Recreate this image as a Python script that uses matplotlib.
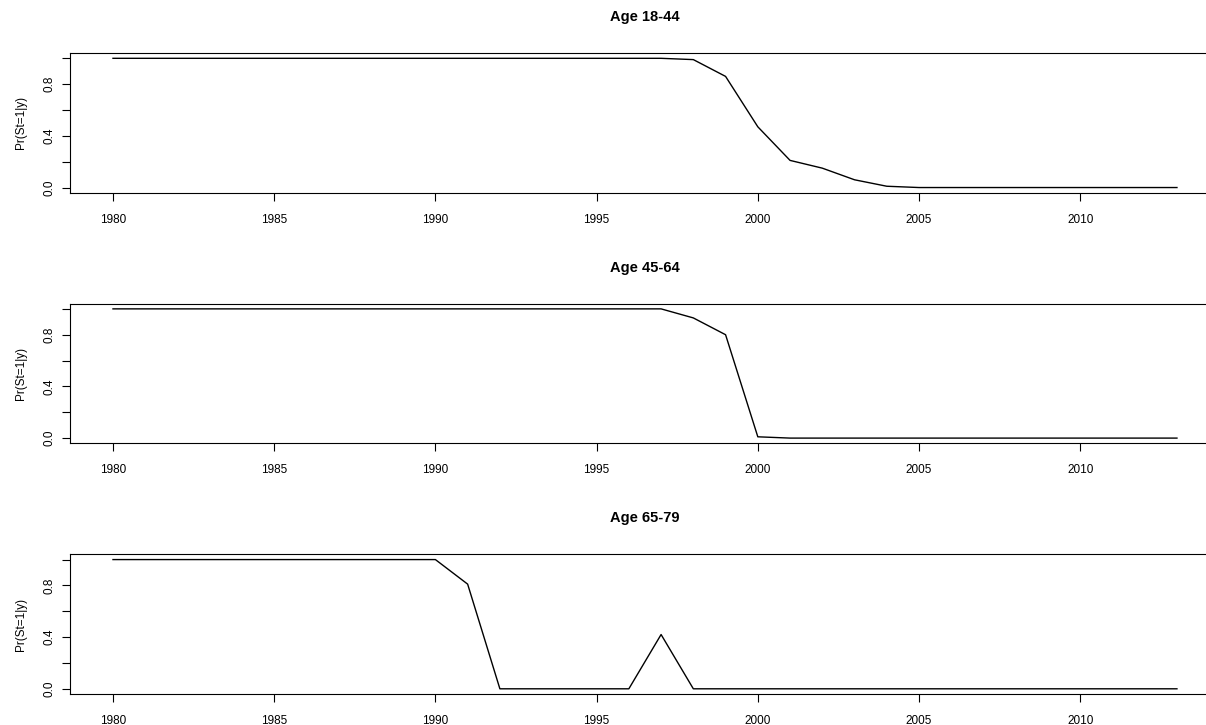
import matplotlib
matplotlib.use("Agg")
import matplotlib.pyplot as plt
import numpy as np

plt.rcParams['font.family'] = ['Liberation Sans', 'DejaVu Sans']

years = list(range(1980, 2014))

# smoothed probability of state 1, one series per age group
p_18_44 = [1.0] * 18 + [0.99, 0.86, 0.47, 0.21, 0.15, 0.06, 0.01] + [0.0] * 9
p_45_64 = [1.0] * 18 + [0.93, 0.80, 0.01] + [0.0] * 13
p_65_79 = [1.0] * 11 + [0.81, 0.0, 0.0, 0.0, 0.0, 0.0, 0.42] + [0.0] * 16

titles = ['Age 18-44', 'Age 45-64', 'Age 65-79']
series = [p_18_44, p_45_64, p_65_79]

x_ticks = [1980, 1985, 1990, 1995, 2000, 2005, 2010]
y_ticks = [0.0, 0.2, 0.4, 0.6, 0.8, 1.0]
y_labels = ['0.0', '', '0.4', '', '0.8', '']

fig = plt.figure(figsize=(12.06, 7.25), dpi=100)

# axes boxes run past the right edge of the figure
bottoms = [0.7342, 0.3886, 0.0428]
height = 0.1925

for title, ys, b in zip(titles, series, bottoms):
    ax = fig.add_axes([0.0584, b, 0.9528, height])
    ax.plot(years, ys, color='black', lw=1.0)

    # R-style 4% padding around the data range
    span = years[-1] - years[0]
    ax.set_xlim(years[0] - 0.04 * span, years[-1] + 0.04 * span)
    ax.set_ylim(-0.04, 1.04)

    ax.set_xticks(x_ticks)
    ax.set_xticklabels([str(t) for t in x_ticks], fontsize=8.5)
    ax.set_yticks(y_ticks)
    ax.set_yticklabels(y_labels, fontsize=8.5, rotation=90, va='center')
    ax.tick_params(axis='both', direction='out', length=6, width=0.8,
                   color='black')
    ax.tick_params(axis='x', pad=9)
    ax.tick_params(axis='y', pad=4.5)

    for side in ['left', 'top', 'bottom']:
        ax.spines[side].set_linewidth(0.8)
    ax.spines['right'].set_visible(False)

    ax.set_ylabel('Pr(St=1|y)', fontsize=8.5)
    ax.yaxis.set_label_coords(-0.0375, 0.5)
    ax.set_title(title, fontsize=10.5, fontweight='bold', pad=23)

fig.savefig('out.png', dpi=100)
